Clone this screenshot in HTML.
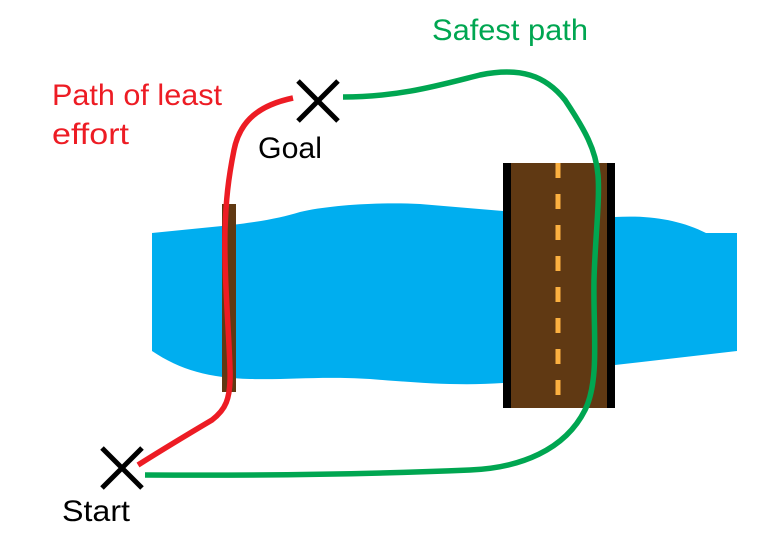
<!DOCTYPE html>
<html><head><style>
html,body{margin:0;padding:0;background:#fff;}
svg{display:block}
text{font-family:"Liberation Sans",sans-serif;}
</style></head><body>
<svg width="768" height="551" viewBox="0 0 768 551" xmlns="http://www.w3.org/2000/svg">
<path d="M152,233 L222,226 C260,222 280,218 300,212 C330,205 380,202 420,204 L503,211 L503,383 C460,386 420,383 370,379 C320,376 290,380 250,379 C210,378 180,370 152,351 Z" fill="#00aeef"/>
<path d="M615,217 C650,215 680,220 706,233 L737,233 L737,351 L615,365 Z" fill="#00aeef"/>
<rect x="222" y="204" width="14" height="188" fill="#603913"/>
<rect x="503" y="163" width="112" height="245" fill="#603913"/>
<rect x="503" y="163" width="8" height="245" fill="#000"/>
<rect x="607" y="163" width="8" height="245" fill="#000"/>
<line x1="558" y1="163" x2="558" y2="408" stroke="#fbb040" stroke-width="5" stroke-dasharray="15,16"/>
<path d="M293,98 C260,105 240,120 234,150 C228,180 226,200 225,230 C224,280 229,330 230,370 C231,400 225,410 212,420 C190,433 165,448 138,465" fill="none" stroke="#ed1c24" stroke-width="5.5"/>
<path d="M343,97 C400,97 440,85 480,75 C520,67 545,75 565,100 C585,130 596,150 598,175 C600,200 595,240 594,280 C593,330 600,380 585,410 C565,450 520,468 470,470 C400,473 300,476 145,475" fill="none" stroke="#00a651" stroke-width="5.5"/>
<path d="M298,81 L338,121 M338,81 L298,121" stroke="#000" stroke-width="5"/>
<path d="M102,448 L142,488 M142,448 L102,488" stroke="#000" stroke-width="5"/>
<text x="432" y="40" font-size="30" fill="#00a651" textLength="156" lengthAdjust="spacingAndGlyphs">Safest path</text>
<text x="52" y="105" font-size="30" fill="#ed1c24" textLength="170" lengthAdjust="spacingAndGlyphs">Path of least</text>
<text x="52" y="144" font-size="30" fill="#ed1c24" textLength="77" lengthAdjust="spacingAndGlyphs">effort</text>
<text x="258" y="158" font-size="30" fill="#000" textLength="64" lengthAdjust="spacingAndGlyphs">Goal</text>
<text x="62" y="521" font-size="30" fill="#000" textLength="68" lengthAdjust="spacingAndGlyphs">Start</text>
</svg>
</body></html>
